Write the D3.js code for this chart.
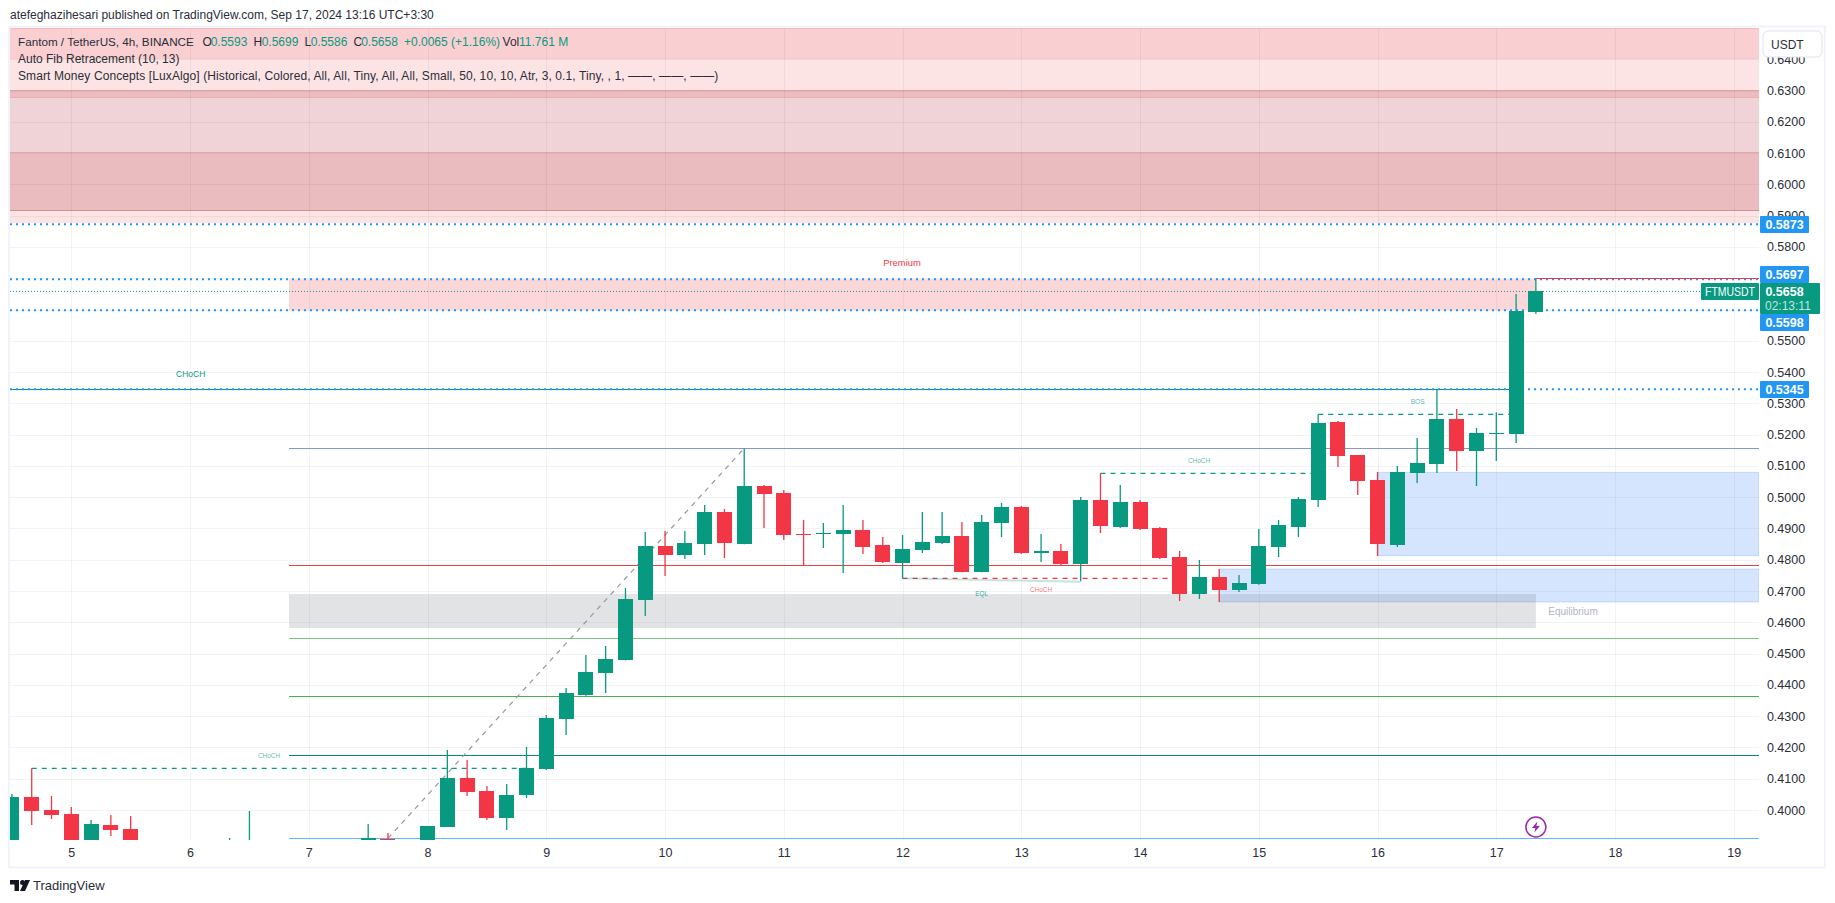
<!DOCTYPE html>
<html>
<head>
<meta charset="utf-8">
<title>FTMUSDT 4h</title>
<script src="https://d3js.org/d3.v7.min.js"></script>
<style>
  body { margin: 0; background: #fff; }
  svg { display: block; }
  text { font-family: "Liberation Sans", Arial, sans-serif; }
</style>
</head>
<body>
<div id="chart"></div>
<script>
// 4h bars, position counted in bars from the start of day 5 (6 bars a day)
// bars that sit wholly under the visible range are left out
const barPos = [-3,-2,-1,0,1,2,3,8,9,15,16,18,19,20,21,22,23,24,25,26,27,28,29,30,31,32,33,34,35,36,37,38,39,40,41,42,43,44,45,46,47,48,49,50,51,52,53,54,55,56,57,58,59,60,61,62,63,64,65,66,67,68,69,70,71,72,73,74];
const opens  = [.3880,.40416,.4000,.39872,.3880,.39520,.39392,.3860,.3860,.3880,.39073,.3880,.39457,.41023,.40607,.39744,.40480,.41311,.42909,.43676,.44380,.44795,.46714,.48440,.48152,.48504,.49527,.48504,.50358,.50134,.48824,.48824,.48824,.48951,.48472,.47896,.48312,.48536,.48760,.47609,.49175,.49687,.48216,.48280,.47864,.49911,.49047,.49847,.49015,.48088,.46905,.47449,.47033,.47225,.48408,.49047,.49911,.52404,.51349,.50550,.48472,.50774,.51061,.52500,.51477,.52036,.52020,.5593];
const highs  = [.40512,.41332,.40448,.40096,.39680,.39840,.39808,.39105,.39968,.39552,.39265,.39488,.41918,.41598,.40767,.40831,.42014,.43037,.43900,.44955,.45243,.47097,.48888,.48920,.48920,.49751,.49623,.51562,.50390,.50230,.49271,.49175,.49751,.49271,.48728,.48792,.49527,.49527,.49207,.49431,.49815,.49719,.48824,.48504,.50006,.50763,.50390,.49911,.49047,.48280,.47992,.47705,.47513,.48983,.49271,.50006,.52649,.52436,.51349,.50806,.50998,.51893,.53448,.52820,.52212,.52713,.56496,.5699];
const lows   = [.3870,.39520,.39712,.3870,.3870,.39169,.3870,.3850,.3850,.3870,.3880,.3875,.39457,.40448,.39680,.39361,.40384,.41280,.42398,.43650,.43740,.44780,.46202,.47481,.48024,.48152,.48056,.48500,.49015,.48632,.47822,.48376,.47577,.48184,.47900,.47406,.48216,.48504,.47600,.47600,.48728,.48184,.47928,.47832,.47310,.48856,.49015,.48950,.48024,.46682,.46746,.46650,.46969,.47200,.48088,.48728,.49687,.50965,.50070,.48120,.48408,.50454,.50774,.50838,.50358,.51157,.51733,.5586];
const closes = [.40416,.39968,.39840,.3880,.39552,.39360,.3880,.3885,.3885,.39094,.3890,.39488,.41023,.40575,.39744,.40480,.41343,.42941,.43740,.44412,.44827,.46745,.48440,.48152,.48536,.49527,.48536,.50358,.50102,.48792,.48792,.48856,.48951,.48408,.47928,.48344,.48568,.48760,.47609,.49207,.49687,.48216,.48280,.47864,.49911,.49079,.49847,.48983,.48056,.46905,.47449,.47033,.47257,.48440,.49111,.49943,.52372,.51317,.50518,.48504,.50806,.51093,.52500,.51477,.52052,.52068,.55953,.5658];

const dayLabels = [5,6,7,8,9,10,11,12,13,14,15,16,17,18,19];
const priceTicks = [.40,.41,.42,.43,.44,.45,.46,.47,.48,.49,.50,.51,.52,.53,.54,.55,.56,.57,.58,.59,.60,.61,.62,.63,.64];
// 0.56 and 0.57 are covered by the price tags, so they get a grid line but no label
const priceLabels = priceTicks.filter(d => d !== .56 && d !== .57);

// supply bands across the whole pane, top to bottom
const bandHigh = [.65,.6402,.63,.6278,.6102,.5918];
const bandLow  = [.6402,.63,.6278,.6102,.5918,.5877];

// auto fib levels
const fibLevels = [.51562,.47822,.45488,.43634,.41748,.39094];

// horizontal rays
const priceLines = [.5873,.5697,.5598,.5345];
const lastClose = .5658;
const lastHigh = .5699;
const chochLevel = .5345;

// order blocks: price top, price bottom, first bar
const blueTop = [.50795,.47705];
const blueBottom = [.48131,.46650];
const blueStart = [66,58];
const premiumZone = [.5697,.5598];
const equilibriumZone = [.46905,.45818];

// dashed structure lines
const dashPrice = [.41332,.50763,.52649];
const dashFrom = [-2,52,63];
const dashTo = [23,63,73];
const redDash = [.47406,42,56];

const W = 1835, H = 903;
const paneL = 10, paneR = 1759, paneT = 28, paneB = 840;
const teal = "#089981", red = "#f23645", blue = "#2196f3";
const bandFill = ["#facfd1","#fde4e4","#ecbcc0","#f0d3d6","#ebbcbf","#fde4e4"];
const bandEdge = ["#f7b8bc","#f9c6c9","#d9a5a9","#e6b0b4","#dfa9ad","#d19296","#fde4e4"];
const fibColor = ["#8a98bd","#e5423d","#7ac47f","#4caf50","#0f8a70","#64b5f6"];

const x = d3.scaleLinear().domain([0, 60]).range([71.3, 71.3 + 118.75 * 10]);
const y = d3.scaleLinear().domain([.40, .63]).range([810, 90.6]);
const dayPos = d => (d - 5) * 6;

const svg = d3.select("#chart").append("svg").attr("width", W).attr("height", H);

svg.append("rect").attr("x", 9).attr("y", 26.5).attr("width", 1816).attr("height", 841)
   .attr("fill", "#fff").attr("stroke", "#f0f3fa").attr("stroke-width", 2);

svg.append("defs").append("clipPath").attr("id", "pane").append("rect")
   .attr("x", paneL).attr("y", paneT).attr("width", paneR - paneL).attr("height", paneB - paneT);

const pane = svg.append("g").attr("clip-path", "url(#pane)");

// top bands
pane.selectAll(".band").data(bandHigh).enter().append("rect")
    .attr("x", paneL).attr("width", paneR - paneL)
    .attr("y", d => y(d))
    .attr("height", (d, i) => y(bandLow[i]) - y(d))
    .attr("fill", (d, i) => bandFill[i]);
pane.selectAll(".edge").data(bandHigh.concat([.5877])).enter().append("line")
    .attr("x1", paneL).attr("x2", paneR)
    .attr("y1", d => y(d)).attr("y2", d => y(d))
    .attr("stroke", (d, i) => bandEdge[i]).attr("shape-rendering", "crispEdges");

// grid
pane.append("g")
    .call(d3.axisLeft(y).tickValues(priceTicks).tickSize(-(paneR - paneL)).tickFormat(""))
    .attr("transform", `translate(${paneL},0)`)
    .call(g => g.select(".domain").remove())
    .selectAll("line").attr("stroke", "#2a2e39").attr("stroke-opacity", .06).attr("shape-rendering", "crispEdges");
pane.append("g")
    .call(d3.axisTop(x).tickValues(dayLabels.map(dayPos)).tickSize(-(paneB - paneT)).tickFormat(""))
    .attr("transform", `translate(0,${paneT})`)
    .call(g => g.select(".domain").remove())
    .selectAll("line").attr("stroke", "#2a2e39").attr("stroke-opacity", .06).attr("shape-rendering", "crispEdges");

// premium, equilibrium and order blocks
const fibStart = 289;
pane.append("rect").attr("x", fibStart).attr("width", x(74) - fibStart)
    .attr("y", y(premiumZone[0])).attr("height", y(premiumZone[1]) - y(premiumZone[0]))
    .attr("fill", "#f23645").attr("fill-opacity", .2);
pane.selectAll(".ob").data(blueTop).enter().append("rect")
    .attr("x", (d, i) => x(blueStart[i])).attr("width", (d, i) => paneR - x(blueStart[i]))
    .attr("y", d => y(d)).attr("height", (d, i) => y(blueBottom[i]) - y(d))
    .attr("fill", "#3b82f6").attr("fill-opacity", .21)
    .attr("stroke", "#3b82f6").attr("stroke-opacity", .22);
pane.append("rect").attr("x", fibStart).attr("width", x(74) - fibStart)
    .attr("y", y(equilibriumZone[0])).attr("height", y(equilibriumZone[1]) - y(equilibriumZone[0]))
    .attr("fill", "#787b86").attr("fill-opacity", .21);

// fib levels and the diagonal
pane.selectAll(".fib").data(fibLevels).enter().append("line")
    .attr("x1", fibStart).attr("x2", paneR)
    .attr("y1", d => y(d)).attr("y2", d => y(d))
    .attr("stroke", (d, i) => fibColor[i]).attr("shape-rendering", "crispEdges");
pane.append("line")
    .attr("x1", x(16)).attr("y1", y(fibLevels[5]))
    .attr("x2", x(34)).attr("y2", y(fibLevels[0]))
    .attr("stroke", "#9598a1").attr("stroke-width", 1.2).attr("stroke-dasharray", "5,5");

// choch line, price rays
pane.append("line").attr("x1", paneL).attr("x2", x(73))
    .attr("y1", y(chochLevel)).attr("y2", y(chochLevel))
    .attr("stroke", teal).attr("shape-rendering", "crispEdges");
pane.selectAll(".ray").data(priceLines).enter().append("line")
    .attr("x1", paneL).attr("x2", paneR)
    .attr("y1", d => y(d)).attr("y2", d => y(d))
    .attr("stroke", blue).attr("stroke-width", 2).attr("stroke-dasharray", "2,4");
pane.append("line").attr("x1", paneL).attr("x2", paneR)
    .attr("y1", y(lastClose)).attr("y2", y(lastClose))
    .attr("stroke", teal).attr("stroke-dasharray", "1,2");
pane.append("line").attr("x1", x(74)).attr("x2", paneR)
    .attr("y1", y(lastHigh)).attr("y2", y(lastHigh))
    .attr("stroke", red).attr("shape-rendering", "crispEdges");

// structure
pane.selectAll(".dash").data(dashPrice).enter().append("line")
    .attr("x1", (d, i) => x(dashFrom[i])).attr("x2", (d, i) => x(dashTo[i]))
    .attr("y1", d => y(d)).attr("y2", d => y(d))
    .attr("stroke", teal).attr("stroke-width", 1.2).attr("stroke-dasharray", "5,5");
pane.append("line").attr("x1", x(redDash[1])).attr("x2", x(redDash[2]))
    .attr("y1", y(redDash[0])).attr("y2", y(redDash[0]))
    .attr("stroke", red).attr("stroke-width", 1.2).attr("stroke-dasharray", "5,5");
pane.append("line").attr("x1", x(42)).attr("x2", x(51))
    .attr("y1", y(.47406)).attr("y2", y(.47299))
    .attr("stroke", teal).attr("stroke-opacity", .5).attr("stroke-width", 2).attr("stroke-dasharray", "1,1");

// candles
const candleColor = i => closes[i] >= opens[i] ? teal : red;
const candles = pane.append("g");
candles.selectAll(".wick").data(barPos).enter().append("line")
    .attr("x1", d => x(d)).attr("x2", d => x(d))
    .attr("y1", (d, i) => y(highs[i])).attr("y2", (d, i) => y(lows[i]))
    .attr("stroke", (d, i) => candleColor(i)).attr("stroke-width", 1.3);
candles.selectAll(".body").data(barPos).enter().append("rect")
    .attr("x", d => x(d) - 7.5).attr("width", 15)
    .attr("y", (d, i) => y(Math.max(opens[i], closes[i])))
    .attr("height", (d, i) => Math.max(1, Math.abs(y(opens[i]) - y(closes[i]))))
    .attr("fill", (d, i) => candleColor(i)).attr("shape-rendering", "crispEdges");

// small labels on the chart
const note = (t, px, py, size, color, op) => svg.append("text").text(t)
    .attr("x", px).attr("y", py).attr("text-anchor", "middle").attr("dominant-baseline", "middle")
    .attr("font-size", size).attr("fill", color).attr("fill-opacity", op);
note("Premium", 902, 264, 9.4, red, 1);
note("CHoCH", 190.7, 375, 8.5, teal, 1);
note("CHoCH", 269, 756, 6.4, teal, .7);
note("CHoCH", 1199, 461, 6.4, teal, .7);
note("CHoCH", 1041, 590, 6.4, red, .7);
note("BOS", 1417.7, 402.5, 6.6, teal, .7);
note("EQL", 981.7, 594, 6.4, teal, .8);
note("Equilibrium", 1573, 612, 10, "#b2b5be", 1);

// lightning marker
const bolt = svg.append("g").attr("transform", `translate(${x(74)},827)`);
bolt.append("circle").attr("r", 10).attr("fill", "#fff").attr("stroke", "#9c27b0").attr("stroke-width", 1.5);
bolt.append("path").attr("d", "M1.5,-5.5 L-4,1 L-0.5,1 L-1.5,5.5 L4,-1 L0.5,-1 Z").attr("fill", "#9c27b0");

// price axis
const priceAxis = svg.append("g").attr("transform", `translate(${paneR},0)`)
    .call(d3.axisRight(y).tickValues(priceLabels).tickSize(0).tickPadding(8).tickFormat(d3.format(".4f")));
priceAxis.select(".domain").remove();
priceAxis.selectAll("text").attr("font-family", '"Liberation Sans", Arial, sans-serif')
    .attr("font-size", 12.5).attr("fill", "#2a2e39").attr("x", 27).attr("text-anchor", "middle");

// day axis
const dayAxis = svg.append("g").attr("transform", `translate(0,${paneB})`)
    .call(d3.axisBottom(x).tickValues(dayLabels.map(dayPos)).tickSize(0).tickPadding(8).tickFormat((d, i) => dayLabels[i]));
dayAxis.select(".domain").remove();
dayAxis.selectAll("text").attr("font-family", '"Liberation Sans", Arial, sans-serif')
    .attr("font-size", 12.5).attr("fill", "#2a2e39");

// price tags, written with their values
const tagValues = [.5873,.5697,.5598,.5345];
const tagCenter = [224.5,274.5,322.5,389.5];
tagValues.forEach((v, i) => {
    svg.append("rect").attr("x", paneR + 1).attr("y", tagCenter[i] - 8.5).attr("width", 49).attr("height", 17)
       .attr("rx", 1).attr("fill", blue);
    svg.append("text").text(v.toFixed(4)).attr("x", paneR + 25.5).attr("y", tagCenter[i])
       .attr("dy", ".35em").attr("text-anchor", "middle").attr("font-size", 12.5).attr("font-weight", "bold").attr("fill", "#fff");
});
svg.append("rect").attr("x", paneR + 1).attr("y", 283).attr("width", 60).attr("height", 31).attr("rx", 1).attr("fill", teal);
svg.append("text").text(lastClose.toFixed(4)).attr("x", paneR + 25.5).attr("y", 296)
   .attr("text-anchor", "middle").attr("font-size", 12.5).attr("font-weight", "bold").attr("fill", "#fff");
svg.append("text").text("02:13:11").attr("x", paneR + 6).attr("y", 310)
   .attr("font-size", 12).attr("fill", "#fff").attr("fill-opacity", .75);
svg.append("rect").attr("x", paneR - 58).attr("y", 283).attr("width", 58).attr("height", 17).attr("rx", 1).attr("fill", teal);
svg.append("text").text("FTMUSDT").attr("x", paneR - 54).attr("y", 296)
   .attr("font-size", 12).attr("fill", "#fff").attr("textLength", 50).attr("lengthAdjust", "spacingAndGlyphs");

// currency button
svg.append("rect").attr("x", 1763).attr("y", 31).attr("width", 59).attr("height", 26).attr("rx", 5)
   .attr("fill", "#fff").attr("stroke", "#e0e3eb");
svg.append("text").text("USDT").attr("x", 1771).attr("y", 49).attr("font-size", 12).attr("fill", "#2a2e39");

// header and legend
svg.append("text").text("atefeghazihesari published on TradingView.com, Sep 17, 2024 13:16 UTC+3:30")
   .attr("x", 10).attr("y", 19).attr("font-size", 12).attr("fill", "#2a2e39");
const legendDark = "#2a2e39";
const legendRow = [
    ["Fantom / TetherUS, 4h, BINANCE", 18, legendDark],
    ["O", 202.5, legendDark], ["0.5593", 210.7, teal],
    ["H", 253.6, legendDark], ["0.5699", 261.7, teal],
    ["L", 304.6, legendDark], ["0.5586", 310.7, teal],
    ["C", 353.6, legendDark], ["0.5658", 361.2, teal],
    ["+0.0065 (+1.16%)", 404, teal],
    ["Vol", 502.6, legendDark], ["11.761 M", 519, teal]
];
legendRow.forEach(r => svg.append("text").text(r[0]).attr("x", r[1]).attr("y", 46)
    .attr("font-size", r[1] === 18 ? 11.7 : 12).attr("fill", r[2]));
svg.append("text").text("Auto Fib Retracement (10, 13)").attr("x", 18).attr("y", 63)
   .attr("font-size", 12).attr("fill", legendDark);
svg.append("text").text("Smart Money Concepts [LuxAlgo] (Historical, Colored, All, All, Tiny, All, All, Small, 50, 10, 10, Atr, 3, 0.1, Tiny, , 1, \u2014\u2014, \u2014\u2014, \u2014\u2014)")
   .attr("x", 18).attr("y", 80).attr("font-size", 12).attr("letter-spacing", .1).attr("fill", legendDark);

// footer logo
const logo = svg.append("g").attr("transform", "translate(10,880)").attr("fill", "#131722");
logo.append("path").attr("d", "M0,0 H9 V11 H4.5 V4.5 H0 Z");
logo.append("circle").attr("cx", 12.5).attr("cy", 2.5).attr("r", 2.5);
logo.append("path").attr("d", "M15,0 H20 L15,11 H10 Z");
svg.append("text").text("TradingView").attr("x", 33).attr("y", 890).attr("font-size", 13).attr("fill", "#2a2e39");
</script>
</body>
</html>
